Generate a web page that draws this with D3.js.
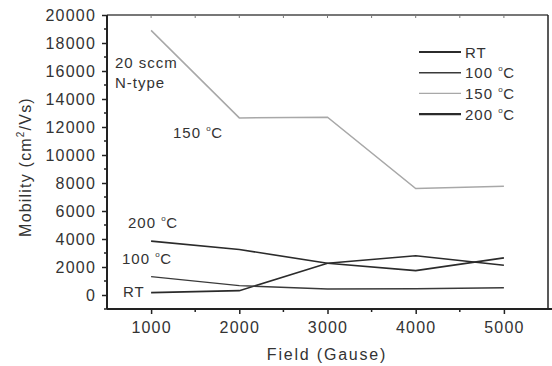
<!DOCTYPE html>
<html>
<head>
<meta charset="utf-8">
<script src="https://cdn.jsdelivr.net/npm/d3@7"></script>
<style>
	body { margin: 0; background: #fff; }
	svg { display: block; font-family: 'Liberation Sans', Arial, sans-serif; }
	.axis text { fill: #333; font-size: 16px; letter-spacing: 1.2px; }
	.lbl { fill: #333; font-size: 15px; letter-spacing: 1px; }
</style>
</head>
<body>
<svg id="chart" width="552" height="366"></svg>
<script>
const fields = [1000, 2000, 3000, 4000, 5000];
const rt = [170, 310, 2270, 2800, 2130];
const t100 = [1310, 670, 430, 450, 520];
const t150 = [18900, 12650, 12700, 7600, 7760];
const t200 = [3850, 3250, 2270, 1740, 2650];
const xTicks = [1000, 2000, 3000, 4000, 5000];
const yTicks = [0, 2000, 4000, 6000, 8000, 10000, 12000, 14000, 16000, 18000, 20000];

const series = [
	{ name: 'RT', values: rt, color: '#2b2b2b', width: 1.6, legendWidth: 2.2 },
	{ name: '100 ', values: t100, color: '#3a3a3a', width: 1.4, legendWidth: 1.6 },
	{ name: '150 ', values: t150, color: '#a8a8a8', width: 1.5, legendWidth: 1.2 },
	{ name: '200 ', values: t200, color: '#2b2b2b', width: 1.6, legendWidth: 2.2 },
];

const margin = { top: 15, right: 4, bottom: 57, left: 107 };
const width = 548 - margin.left;
const height = 309 - margin.top;

const x = d3.scaleLinear().domain([500, 5500]).range([0, width]);
const y = d3.scaleLinear().domain([-1000, 20000]).range([height, 0]);

const svg = d3.select('#chart')
	.append('g')
		.attr('transform', `translate(${ margin.left }, ${ margin.top })`);

// frame: top and right
svg.append('line')
	.attr('x1', 0).attr('x2', width).attr('y1', 0).attr('y2', 0)
	.attr('stroke', '#777').attr('stroke-width', 2);
svg.append('line')
	.attr('x1', width).attr('x2', width).attr('y1', 0).attr('y2', height)
	.attr('stroke', '#222').attr('stroke-width', 1.5);

// top minor ticks
svg.append('g')
	.selectAll('line')
	.data(d3.range(1000, 5500, 500))
	.join('line')
		.attr('x1', d => x(d)).attr('x2', d => x(d))
		.attr('y1', 0).attr('y2', 3)
		.attr('stroke', '#777');

// x axis
const xAxis = svg.append('g')
	.attr('class', 'axis')
	.attr('transform', `translate(0, ${ height })`)
	.call(d3.axisBottom(x).tickValues(xTicks).tickSize(5).tickPadding(8).tickFormat(d3.format('d')));
xAxis.select('.domain').attr('stroke', '#222').attr('stroke-width', 2).attr('d', `M0,0H${ width + 4 }`);
xAxis.selectAll('.tick line').attr('stroke', '#222').attr('stroke-width', 1.5);
svg.append('g')
	.attr('transform', `translate(0, ${ height })`)
	.selectAll('line')
	.data([1500, 2500, 3500, 4500])
	.join('line')
		.attr('x1', d => x(d)).attr('x2', d => x(d))
		.attr('y1', 0).attr('y2', 3)
		.attr('stroke', '#222').attr('stroke-width', 1.5);

// y axis
const yAxis = svg.append('g')
	.attr('class', 'axis')
	.call(d3.axisLeft(y).tickValues(yTicks).tickSize(5).tickPadding(6).tickFormat(d3.format('d')));
yAxis.select('.domain').attr('stroke', '#222').attr('stroke-width', 2).attr('d', `M0,0V${ height }`);
yAxis.selectAll('.tick line').attr('stroke', '#222').attr('stroke-width', 1.5);
yAxis.selectAll('.tick text').attr('dy', '0.36em');
svg.append('g')
	.selectAll('line')
	.data(d3.range(-1000, 20000, 2000))
	.join('line')
		.attr('x1', 0).attr('x2', -3)
		.attr('y1', d => y(d)).attr('y2', d => y(d))
		.attr('stroke', '#222').attr('stroke-width', 1.5);

// lines
const line = d3.line()
	.x((d, i) => x(fields[i]))
	.y(d => y(d));

svg.selectAll('path.series')
	.data(series)
	.join('path')
		.attr('class', 'series')
		.attr('fill', 'none')
		.attr('stroke', d => d.color)
		.attr('stroke-width', d => d.width)
		.attr('d', d => line(d.values));

// degree label helper
const label = (g, tx, ty, num) => {
	const t = g.append('text').attr('class', 'lbl').attr('x', tx).attr('y', ty);
	t.append('tspan').text(num + ' ');
	t.append('tspan').attr('font-size', 8).attr('letter-spacing', '0.5px').attr('dy', -7).text('o');
	t.append('tspan').attr('dy', 7).text('C');
	return t;
};

// legend
const legend = svg.append('g').attr('transform', `translate(${ 419 - margin.left }, ${ 52 - margin.top })`);
series.forEach((s, i) => {
	const row = legend.append('g').attr('transform', `translate(0, ${ i * 20.7 })`);
	row.append('line')
		.attr('x1', 0).attr('x2', 42)
		.attr('stroke', s.color)
		.attr('stroke-width', s.legendWidth);
	if (s.name === 'RT') {
		row.append('text').attr('class', 'lbl').attr('x', 46).attr('y', 5.5).text('RT');
	} else {
		label(row, 46, 5.5, s.name.trim());
	}
});

// annotations
const ann = svg.append('g').attr('transform', `translate(${ -margin.left }, ${ -margin.top })`);
ann.append('text').attr('class', 'lbl').attr('x', 115).attr('y', 68).text('20 sccm');
ann.append('text').attr('class', 'lbl').attr('x', 115).attr('y', 88).text('N-type');
label(ann, 173, 138, '150');
label(ann, 128, 228, '200');
label(ann, 122, 264, '100');
ann.append('text').attr('class', 'lbl').attr('x', 123).attr('y', 297).text('RT');

// axis titles
const titles = d3.select('#chart');
titles.append('text')
	.attr('x', 327).attr('y', 360)
	.attr('text-anchor', 'middle')
	.attr('fill', '#333').attr('font-size', 16).attr('letter-spacing', '1.8px')
	.text('Field (Gause)');
const yt = titles.append('text')
	.attr('transform', 'translate(31, 167) rotate(-90)')
	.attr('text-anchor', 'middle')
	.attr('fill', '#333').attr('font-size', 16).attr('letter-spacing', '1.2px');
yt.append('tspan').text('Mobility (cm');
yt.append('tspan').attr('font-size', 10).attr('dy', -7).text('2');
yt.append('tspan').attr('dy', 7).text('/Vs)');
</script>
</body>
</html>
